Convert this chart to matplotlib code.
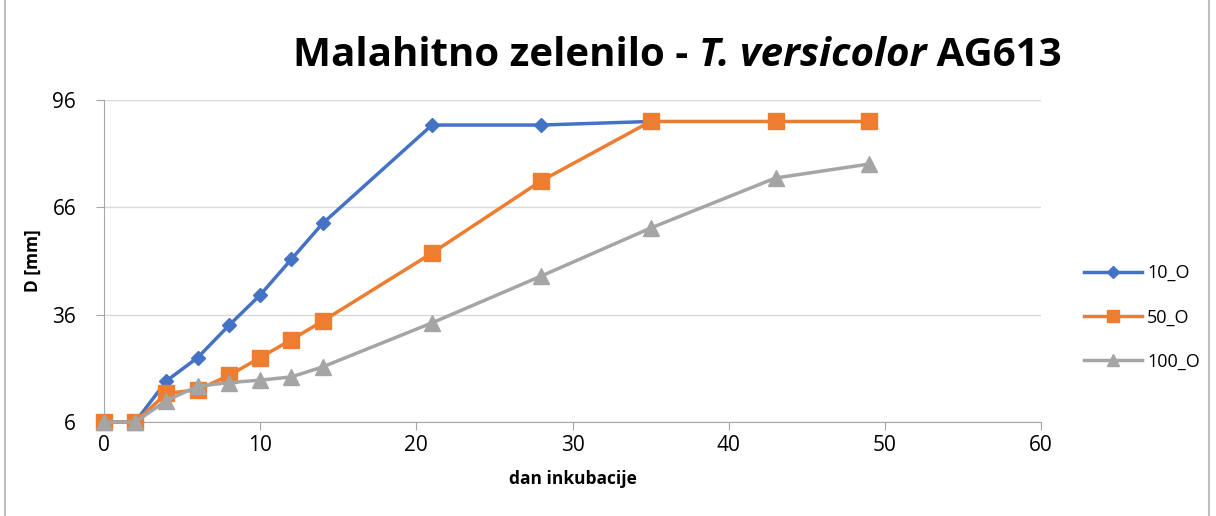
import matplotlib.pyplot as plt
from matplotlib.lines import Line2D
from matplotlib.offsetbox import TextArea, HPacker, AnchoredOffsetbox

# data
days_10 = [0, 2, 4, 6, 8, 10, 12, 14, 21, 28, 35]
d_10 = [6, 6, 17.5, 24, 33, 41.5, 51.5, 61.5, 89, 89, 90]

days = [0, 2, 4, 6, 8, 10, 12, 14, 21, 28, 35, 43, 49]
d_50 = [6, 6, 14, 15, 19, 24, 29, 34.2, 53.2, 73.4, 90, 90, 90]
d_100 = [6, 6, 12, 16, 17, 17.7, 18.6, 21.4, 33.7, 46.8, 60.2, 74.2, 78.1]

series_names = ['10_O', '50_O', '100_O']
colors = ['#4472C4', '#ED7D31', '#A5A5A5']

plt.rcParams['font.family'] = ['Open Sans', 'DejaVu Sans']

fig = plt.figure(figsize=(12.16, 5.16), dpi=100)
ax = fig.add_axes([104/1216, 1-422/516, (1041-104)/1216, (422-100)/516])

ax.plot(days_10, d_10, color=colors[0], lw=2.5, marker='D', ms=7, zorder=3, clip_on=False)
ax.plot(days, d_50, color=colors[1], lw=2.5, marker='s', ms=11, zorder=4, clip_on=False)
ax.plot(days, d_100, color=colors[2], lw=2.5, marker='^', ms=11, zorder=5, clip_on=False)

ax.set_xlim(0, 60)
ax.set_ylim(6, 96)
ax.set_xticks(range(0, 61, 10))
ax.set_yticks([6, 36, 66, 96])
ax.grid(axis='y', color='#D9D9D9', lw=1)
ax.set_axisbelow(True)
for s in ['top', 'right']:
    ax.spines[s].set_visible(False)
for s in ['left', 'bottom']:
    ax.spines[s].set_color('#A6A6A6')
ax.tick_params(axis='both', colors='#A6A6A6', labelcolor='black', labelsize=15,
               length=6, direction='out')
ax.tick_params(axis='y', pad=14)
ax.set_xlabel('dan inkubacije', fontsize=12.5, fontweight='bold', labelpad=10)
ax.set_ylabel('D [mm]', fontsize=12.5, fontweight='bold', labelpad=8)

# title with an italic part
tprops = dict(fontsize=29, fontweight='bold', color='black')
parts = [
    TextArea('Malahitno zelenilo - ', textprops=tprops),
    TextArea('T. versicolor', textprops=dict(tprops, fontstyle='italic')),
    TextArea(' AG613', textprops=tprops),
]
box = HPacker(children=parts, align='baseline', pad=0, sep=0)
title = AnchoredOffsetbox(loc='center', child=box, frameon=False,
                          bbox_to_anchor=(0.557, 0.893), bbox_transform=fig.transFigure,
                          borderpad=0, pad=0)
fig.add_artist(title)

handles = [
    Line2D([], [], color=colors[0], lw=2.5, marker='D', ms=6),
    Line2D([], [], color=colors[1], lw=2.5, marker='s', ms=8),
    Line2D([], [], color=colors[2], lw=2.5, marker='^', ms=8),
]
fig.legend(handles, series_names, loc='center left', bbox_to_anchor=(0.878, 0.385),
           frameon=False, fontsize=13, labelspacing=1.45, handlelength=3.2,
           handletextpad=0.3)

# chart border
fig.add_artist(plt.Rectangle((0.004, -0.01), 0.99, 1.02, transform=fig.transFigure,
                             fill=False, ec='#BFBFBF', lw=1.5))

fig.savefig('out.png', dpi=100)
